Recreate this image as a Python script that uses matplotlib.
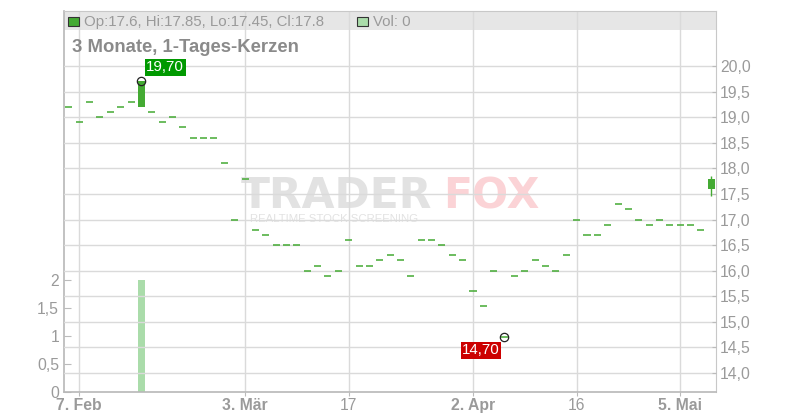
import numpy as np
import pandas as pd
import matplotlib
matplotlib.use("Agg")
import matplotlib.pyplot as plt
from matplotlib.patches import Rectangle

plt.rcParams['font.family'] = ['Liberation Sans', 'DejaVu Sans']

# trading days (Xetra calendar, no Good Friday / Easter Monday / 1 May)
dates = pd.bdate_range("2025-02-06", "2025-05-08")
dates = dates[~dates.isin(pd.to_datetime(["2025-04-18", "2025-04-21", "2025-05-01"]))]

closes = [19.2, 18.9, 19.3, 19.0, 19.1, 19.2, 19.3, 19.7, 19.1, 18.9,
          19.0, 18.8, 18.6, 18.6, 18.6, 18.1, 17.0, 17.8, 16.8, 16.7,
          16.5, 16.5, 16.5, 16.0, 16.1, 15.9, 16.0, 16.6, 16.1, 16.1,
          16.2, 16.3, 16.2, 15.9, 16.6, 16.6, 16.5, 16.3, 16.2, 15.6,
          15.3, 16.0, 14.7, 15.9, 16.0, 16.2, 16.1, 16.0, 16.3, 17.0,
          16.7, 16.7, 16.9, 17.3, 17.2, 17.0, 16.9, 17.0, 16.9, 16.9,
          16.9, 16.8, 17.8]
opens = list(closes)
opens[7] = 19.2
opens[62] = 17.6
highs = list(closes)
highs[62] = 17.85
lows = list(closes)
lows[7] = 19.2
lows[62] = 17.45
volumes = [0, 0, 0, 0, 0, 0, 0, 2, 0, 0, 0, 0, 0, 0, 0, 0, 0, 0, 0, 0,
           0, 0, 0, 0, 0, 0, 0, 0, 0, 0, 0, 0, 0, 0, 0, 0, 0, 0, 0, 0,
           0, 0, 0, 0, 0, 0, 0, 0, 0, 0, 0, 0, 0, 0, 0, 0, 0, 0, 0, 0,
           0, 0, 0]

tick_dates = ["2025-02-07", "2025-03-03", "2025-03-17", "2025-04-02", "2025-04-16", "2025-05-05"]
tick_labels = ["7. Feb", "3. Mär", "17", "2. Apr", "16", "5. Mai"]
tick_bold = [True, True, False, True, False, True]

price_ticks = [14.0, 14.5, 15.0, 15.5, 16.0, 16.5, 17.0, 17.5, 18.0, 18.5, 19.0, 19.5, 20.0]
vol_ticks = [0, 0.5, 1, 1.5, 2]
vol_labels = ["0", "0,5", "1", "1,5", "2"]

GREEN = "#44aa33"
GRID = "#dadada"
LABEL = "#9a9a9a"

W, H = 800, 420
L, R, T, B = 63.5, 716, 11, 392

fig = plt.figure(figsize=(W / 100, H / 100), dpi=100)
ax_vol = fig.add_axes([L / W, (H - B) / H, (R - L) / W, (B - T) / H])
ax = ax_vol.twinx()


def fx(px):
    return (px - L) / (R - L)


def fy(py):
    return (B - py) / (B - T)


x = np.arange(len(dates))

# volume
ax_vol.bar(x, volumes, width=0.68, color="#aadcaa", zorder=1)
ax_vol.set_ylim(0, 381 / 56)
ax_vol.set_yticks(vol_ticks)
ax_vol.set_yticklabels(vol_labels)
ax_vol.set_xlim(-0.52, 62.45)

tick_idx = [dates.get_loc(pd.Timestamp(d)) for d in tick_dates]
ax_vol.set_xticks(tick_idx)
ax_vol.set_xticklabels(tick_labels)
for lbl, b in zip(ax_vol.get_xticklabels(), tick_bold):
    lbl.set_fontweight("bold" if b else "normal")

ax_vol.set_axisbelow(True)
ax_vol.grid(axis="x", color=GRID, lw=1)
ax_vol.tick_params(axis="x", direction="out", length=3, pad=1.5, color="#bbbbbb",
                   labelcolor=LABEL, labelsize=11.3)
ax_vol.tick_params(axis="y", direction="in", length=5, pad=3.2, color="#bbbbbb",
                   labelcolor=LABEL, labelsize=11.3)

# header band
ax_vol.add_patch(Rectangle((0, fy(30)), 1, 1 - fy(30), transform=ax_vol.transAxes,
                           fc="#e6e6e6", ec="none", zorder=0.2))

# watermark
ax_vol.text(fx(241), fy(208.3), "TRADER", transform=ax_vol.transAxes, ha="left", va="baseline",
            fontsize=30.6, fontweight="bold", family="DejaVu Sans", color="#e2e2e2", zorder=0.3)
ax_vol.text(fx(443), fy(208.3), "FOX", transform=ax_vol.transAxes, ha="left", va="baseline",
            fontsize=30.6, fontweight="bold", family="DejaVu Sans", color="#fbd3d6", zorder=0.3)
ax_vol.text(fx(250), fy(222), "REALTIME STOCK SCREENING", transform=ax_vol.transAxes,
            ha="left", va="baseline", fontsize=8.2, color="#e2e2e2", zorder=0.3)

for side in ["left", "bottom"]:
    ax_vol.spines[side].set_color("#b8b8b8")
    ax_vol.spines[side].set_linewidth(1.2)
ax_vol.spines["top"].set_color("#c8c8c8")
ax_vol.spines["right"].set_color("#c8c8c8")
for s in ax.spines.values():
    s.set_visible(False)

# price candles
ppu = (373 - 66) / 6
ax.set_ylim(14 - (392 - 373) / ppu, 20 + (66 - 11) / ppu)
ax.set_yticks(price_ticks)
ax.set_yticklabels([f"{v:.1f}".replace(".", ",") for v in price_ticks])
ax.set_axisbelow(True)
ax.grid(axis="y", color=GRID, lw=1)
ax.tick_params(axis="y", direction="in", length=3, pad=3, color="#bbbbbb",
               labelcolor=LABEL, labelsize=11.3)

for i in x:
    o, c, h, l = opens[i], closes[i], highs[i], lows[i]
    if h > max(o, c) or l < min(o, c):
        ax.vlines(i, l, h, color=GREEN, lw=1, zorder=3)
    if o == c:
        ax.hlines(c, i - 0.34, i + 0.34, color=GREEN, lw=1.1, zorder=3)
    else:
        ax.bar(i, abs(c - o), bottom=min(o, c), width=0.68,
               color=GREEN if c > o else "#cc0000", zorder=3)

# high / low markers
hi = int(np.argmax(highs))
lo = int(np.argmin(lows))
ax.plot([hi, lo], [highs[hi], lows[lo]], "o", mfc="none", mec="#222222", ms=6, mew=0.9, zorder=4)
ax.annotate(f"{highs[hi]:.2f}".replace(".", ","), xy=(hi, highs[hi]), xytext=(3.5, 5.0),
            textcoords="offset points", ha="left", va="bottom", color="white", fontsize=10.8,
            bbox=dict(boxstyle="square,pad=0.1", fc="#009900", ec="none"), zorder=5)
ax.annotate(f"{lows[lo]:.2f}".replace(".", ","), xy=(lo, lows[lo]), xytext=(-3.1, -4.3),
            textcoords="offset points", ha="right", va="top", color="white", fontsize=10.8,
            bbox=dict(boxstyle="square,pad=0.1", fc="#cc0000", ec="none"), zorder=5)

# header legend + title
ax.add_patch(Rectangle((fx(68.3), fy(26.3)), (78.7 - 68.3) / (R - L), (26.3 - 17) / (B - T),
                       transform=ax.transAxes, fc=GREEN, ec="#333333", lw=0.8, clip_on=False, zorder=6))
ax.text(fx(84), fy(21.7), f"Op:{opens[-1]}, Hi:{highs[-1]}, Lo:{lows[-1]}, Cl:{closes[-1]}",
        transform=ax.transAxes, ha="left", va="center", fontsize=10.8, color=LABEL, zorder=6)
ax.add_patch(Rectangle((fx(357), fy(26.3)), (368 - 357) / (R - L), (26.3 - 17) / (B - T),
                       transform=ax.transAxes, fc="#aadcaa", ec="#333333", lw=0.8, clip_on=False, zorder=6))
ax.text(fx(373), fy(21.7), f"Vol: {volumes[-1]}", transform=ax.transAxes, ha="left", va="center",
        fontsize=10.8, color=LABEL, zorder=6)
ax.text(fx(72), fy(47.5), "3 Monate, 1-Tages-Kerzen", transform=ax.transAxes, ha="left",
        va="center", fontsize=13.3, fontweight="bold", color="#8a8a8a", zorder=6)

fig.savefig("out.png", dpi=100)
